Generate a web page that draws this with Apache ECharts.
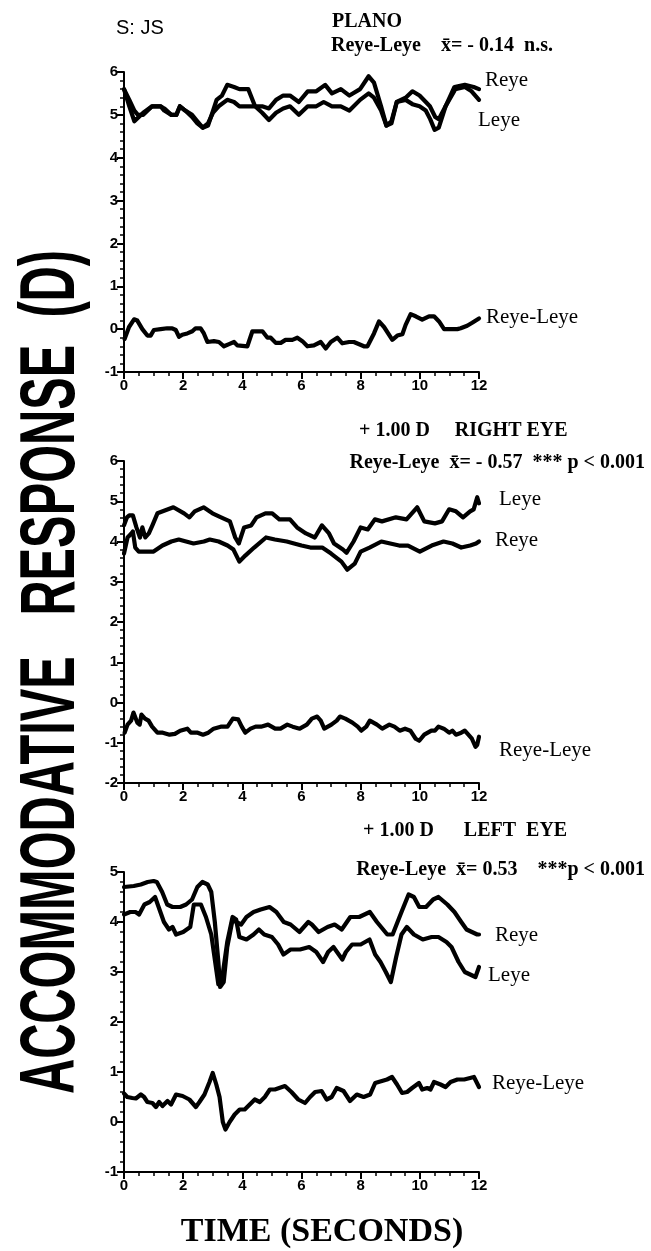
<!DOCTYPE html>
<html>
<head>
<meta charset="utf-8">
<script src="https://cdn.jsdelivr.net/npm/echarts@6/dist/echarts.min.js"></script>
<style>
  html, body { margin: 0; padding: 0; background: #fff; }
  #chart { width: 651px; height: 1251px; }
</style>
</head>
<body>
<div id="chart"></div>
<script>
// Accommodative response traces, [time (s), response (D)]

// Plano condition
const planoReye = [[0,5.6],[0.18,5.35],[0.35,5.1],[0.47,5.0],[0.65,5.0],[0.95,5.2],[1.24,5.2],[1.36,5.15],[1.6,5.0],[1.77,5.0],[1.89,5.2],[2.07,5.1],[2.3,5.0],[2.48,4.85],[2.66,4.7],[2.84,4.75],[3.01,5.1],[3.13,5.35],[3.31,5.45],[3.49,5.7],[3.72,5.65],[3.9,5.6],[4.2,5.6],[4.43,5.2],[4.67,5.2],[4.9,5.15],[5.14,5.35],[5.38,5.45],[5.61,5.45],[5.91,5.3],[6.21,5.55],[6.5,5.55],[6.8,5.7],[7.03,5.5],[7.33,5.6],[7.62,5.45],[7.98,5.6],[8.27,5.9],[8.45,5.75],[8.69,5.2],[8.87,4.75],[9.04,4.85],[9.22,5.3],[9.52,5.4],[9.75,5.55],[9.99,5.45],[10.34,5.2],[10.52,4.95],[10.64,4.9],[10.87,5.2],[11.17,5.65],[11.52,5.7],[11.82,5.65],[12,5.6]];
const planoLeye = [[0,5.6],[0.18,5.2],[0.35,4.85],[0.5,4.95],[0.65,5.05],[0.95,5.2],[1.24,5.2],[1.36,5.1],[1.6,5.0],[1.77,5.0],[1.89,5.2],[2.07,5.1],[2.3,4.95],[2.48,4.8],[2.66,4.7],[2.84,4.8],[3.01,5.05],[3.2,5.2],[3.49,5.35],[3.72,5.3],[3.9,5.2],[4.2,5.2],[4.43,5.2],[4.67,5.05],[4.9,4.88],[5.14,5.05],[5.38,5.15],[5.61,5.2],[5.91,5.0],[6.21,5.2],[6.5,5.2],[6.75,5.3],[7.03,5.2],[7.33,5.2],[7.62,5.1],[7.98,5.35],[8.27,5.5],[8.45,5.4],[8.69,5.1],[8.87,4.75],[9.04,4.8],[9.22,5.3],[9.52,5.35],[9.75,5.25],[9.99,5.2],[10.2,5.1],[10.35,4.9],[10.5,4.65],[10.64,4.7],[10.87,5.2],[11.2,5.6],[11.52,5.65],[11.75,5.55],[12,5.35]];
const planoDiff = [[0.02,-0.23],[0.17,0.05],[0.34,0.23],[0.45,0.2],[0.62,0.0],[0.79,-0.15],[0.9,-0.15],[1.01,-0.02],[1.24,0.0],[1.46,0.02],[1.63,0.02],[1.75,-0.02],[1.86,-0.18],[1.97,-0.13],[2.14,-0.1],[2.31,-0.05],[2.42,0.02],[2.59,0.02],[2.7,-0.1],[2.82,-0.3],[3.04,-0.28],[3.21,-0.3],[3.38,-0.4],[3.55,-0.35],[3.72,-0.3],[3.83,-0.38],[4.17,-0.4],[4.34,-0.05],[4.68,-0.05],[4.85,-0.2],[4.96,-0.2],[5.13,-0.32],[5.3,-0.32],[5.46,-0.25],[5.69,-0.25],[5.86,-0.2],[6.03,-0.28],[6.2,-0.4],[6.42,-0.38],[6.65,-0.3],[6.82,-0.45],[6.99,-0.3],[7.21,-0.2],[7.38,-0.33],[7.61,-0.3],[7.77,-0.3],[8.11,-0.4],[8.23,-0.4],[8.45,-0.1],[8.62,0.18],[8.79,0.05],[9.07,-0.25],[9.24,-0.15],[9.41,-0.12],[9.52,0.1],[9.69,0.35],[9.86,0.3],[10.08,0.22],[10.31,0.3],[10.48,0.3],[10.65,0.18],[10.82,0.0],[11.27,0.0],[11.38,0.02],[11.6,0.08],[11.77,0.15],[12,0.25]];

// +1.00 D lens before the right eye
const rightLensLeye = [[0,4.4],[0.1,4.6],[0.18,4.65],[0.3,4.65],[0.42,4.35],[0.54,4.1],[0.62,4.35],[0.72,4.1],[0.84,4.2],[0.96,4.4],[1.13,4.7],[1.31,4.75],[1.67,4.85],[2.03,4.7],[2.21,4.6],[2.39,4.75],[2.69,4.85],[2.99,4.7],[3.28,4.6],[3.58,4.5],[3.76,4.1],[3.88,3.95],[4.06,4.35],[4.3,4.4],[4.48,4.6],[4.78,4.7],[5.01,4.7],[5.25,4.55],[5.61,4.55],[5.85,4.35],[6.15,4.2],[6.45,4.1],[6.69,4.4],[6.93,4.2],[7.1,3.95],[7.4,3.8],[7.52,3.72],[7.76,4.0],[8.0,4.35],[8.24,4.3],[8.48,4.55],[8.72,4.5],[9.19,4.6],[9.55,4.55],[9.91,4.85],[10.15,4.5],[10.51,4.45],[10.75,4.5],[10.99,4.8],[11.22,4.75],[11.46,4.6],[11.7,4.75],[11.82,4.8],[11.94,5.1],[12,4.95]];
const rightLensReye = [[0,3.7],[0.12,4.1],[0.25,4.2],[0.3,4.25],[0.38,3.85],[0.5,3.75],[0.75,3.75],[1.0,3.75],[1.3,3.9],[1.6,4.0],[1.85,4.05],[2.1,4.0],[2.35,3.95],[2.7,4.0],[2.9,4.05],[3.2,4.0],[3.5,3.9],[3.7,3.8],[3.9,3.5],[4.1,3.65],[4.4,3.85],[4.8,4.1],[5.1,4.05],[5.5,4.0],[6.0,3.9],[6.3,3.85],[6.7,3.85],[7.0,3.7],[7.35,3.5],[7.55,3.3],[7.8,3.45],[8.0,3.75],[8.3,3.85],[8.7,4.0],[9.0,3.95],[9.3,3.9],[9.6,3.9],[10.0,3.75],[10.4,3.9],[10.8,4.0],[11.1,3.95],[11.4,3.85],[11.7,3.9],[11.9,3.95],[12,4.0]];
const rightLensDiff = [[0.02,-0.75],[0.12,-0.55],[0.24,-0.45],[0.32,-0.25],[0.45,-0.5],[0.53,-0.55],[0.59,-0.3],[0.71,-0.4],[0.83,-0.45],[0.95,-0.6],[1.13,-0.75],[1.31,-0.75],[1.54,-0.8],[1.72,-0.78],[1.9,-0.7],[2.14,-0.65],[2.26,-0.75],[2.49,-0.75],[2.67,-0.8],[2.85,-0.75],[3.03,-0.65],[3.27,-0.6],[3.5,-0.6],[3.68,-0.4],[3.86,-0.42],[3.98,-0.6],[4.1,-0.75],[4.28,-0.65],[4.45,-0.6],[4.63,-0.6],[4.87,-0.55],[5.11,-0.65],[5.29,-0.65],[5.52,-0.55],[5.7,-0.6],[5.94,-0.65],[6.18,-0.55],[6.35,-0.4],[6.53,-0.35],[6.65,-0.45],[6.77,-0.65],[7.01,-0.55],[7.19,-0.45],[7.3,-0.35],[7.48,-0.4],[7.72,-0.5],[7.9,-0.6],[8.02,-0.7],[8.19,-0.6],[8.31,-0.45],[8.55,-0.55],[8.73,-0.65],[8.97,-0.55],[9.14,-0.6],[9.32,-0.7],[9.5,-0.65],[9.68,-0.7],[9.86,-0.9],[9.98,-0.95],[10.15,-0.8],[10.39,-0.7],[10.51,-0.7],[10.63,-0.6],[10.81,-0.65],[10.99,-0.75],[11.1,-0.7],[11.22,-0.8],[11.4,-0.75],[11.52,-0.7],[11.64,-0.8],[11.76,-0.9],[11.88,-1.1],[11.94,-1.05],[12,-0.85]];

// +1.00 D lens before the left eye
const leftLensReye = [[0,4.7],[0.33,4.72],[0.57,4.75],[0.8,4.8],[1.0,4.82],[1.11,4.8],[1.29,4.6],[1.46,4.35],[1.64,4.3],[1.9,4.3],[2.1,4.35],[2.3,4.45],[2.48,4.7],[2.65,4.8],[2.83,4.75],[2.95,4.6],[3.07,4.0],[3.19,3.2],[3.25,2.7],[3.37,2.8],[3.49,3.5],[3.67,4.05],[3.79,4.0],[3.96,3.95],[4.14,4.1],[4.38,4.2],[4.62,4.25],[4.92,4.3],[5.15,4.2],[5.4,4.0],[5.63,3.95],[5.93,3.8],[6.23,4.0],[6.35,3.95],[6.58,3.8],[6.88,3.9],[7.12,3.95],[7.36,3.85],[7.65,4.1],[7.95,4.1],[8.31,4.2],[8.55,4.0],[8.9,3.75],[9.08,3.75],[9.38,4.2],[9.62,4.55],[9.8,4.5],[9.98,4.3],[10.21,4.3],[10.45,4.45],[10.63,4.5],[10.93,4.35],[11.17,4.2],[11.4,4.0],[11.58,3.85],[11.76,3.8],[11.94,3.75],[12,3.75]];
const leftLensLeye = [[0,4.15],[0.21,4.2],[0.39,4.2],[0.51,4.15],[0.69,4.35],[0.87,4.4],[1.05,4.5],[1.17,4.3],[1.35,4.0],[1.52,3.85],[1.64,3.9],[1.76,3.75],[2.0,3.8],[2.24,3.9],[2.36,4.35],[2.6,4.35],[2.77,4.1],[2.95,3.75],[3.13,3.0],[3.19,2.75],[3.31,2.85],[3.49,3.6],[3.67,4.1],[3.79,4.05],[3.9,3.7],[4.14,3.65],[4.38,3.75],[4.56,3.85],[4.74,3.75],[5.0,3.7],[5.21,3.55],[5.39,3.35],[5.63,3.45],[5.95,3.45],[6.26,3.5],[6.5,3.4],[6.73,3.2],[6.9,3.4],[7.08,3.5],[7.26,3.35],[7.38,3.25],[7.5,3.4],[7.71,3.55],[8.0,3.55],[8.3,3.65],[8.49,3.35],[8.67,3.2],[8.85,3.0],[9.02,2.8],[9.2,3.3],[9.38,3.75],[9.56,3.9],[9.8,3.75],[10.1,3.65],[10.4,3.7],[10.63,3.7],[10.9,3.6],[11.07,3.5],[11.31,3.2],[11.52,3.0],[11.7,2.95],[11.88,2.9],[12,3.1]];
const leftLensDiff = [[0,0.57],[0.11,0.5],[0.28,0.48],[0.4,0.47],[0.57,0.55],[0.68,0.5],[0.79,0.4],[0.96,0.38],[1.08,0.3],[1.19,0.4],[1.3,0.32],[1.47,0.42],[1.59,0.35],[1.76,0.55],[1.98,0.52],[2.21,0.45],[2.43,0.3],[2.55,0.4],[2.72,0.55],[2.89,0.8],[3.0,0.98],[3.12,0.75],[3.23,0.5],[3.34,0.0],[3.43,-0.15],[3.57,0.0],[3.62,0.0],[3.74,0.15],[3.91,0.25],[4.08,0.25],[4.25,0.35],[4.42,0.45],[4.59,0.4],[4.76,0.5],[4.93,0.65],[5.1,0.65],[5.44,0.72],[5.66,0.6],[5.89,0.45],[6.12,0.38],[6.29,0.5],[6.46,0.6],[6.68,0.62],[6.85,0.45],[7.02,0.5],[7.19,0.68],[7.42,0.62],[7.64,0.42],[7.87,0.55],[8.1,0.5],[8.32,0.55],[8.49,0.78],[8.89,0.85],[9.06,0.9],[9.23,0.75],[9.4,0.58],[9.57,0.6],[9.74,0.68],[9.97,0.78],[10.08,0.65],[10.25,0.68],[10.36,0.65],[10.48,0.8],[10.7,0.75],[10.87,0.7],[11.04,0.8],[11.27,0.85],[11.5,0.85],[11.83,0.9],[12,0.7]];

// Axis ranges per panel: [min, max]
const yRanges = [[-1, 6], [-2, 6], [-1, 5]];
const timeRange = [0, 12];

// Panel placement in pixels: [top, height]
const panelBoxes = [[72, 300], [461, 322], [872, 300]];
const plotLeft = 124, plotWidth = 355;

const tickFont = { fontFamily: 'Liberation Sans', fontWeight: 'bold', fontSize: 15, color: '#000' };

const grids = panelBoxes.map(([top, height]) => ({ left: plotLeft, top, width: plotWidth, height }));

const xAxes = grids.map((g, i) => ({
  type: 'value', gridIndex: i, min: timeRange[0], max: timeRange[1], interval: 2,
  axisLine: { show: true, onZero: false, lineStyle: { color: '#000', width: 2 } },
  axisTick: { show: true, length: 7, lineStyle: { color: '#000', width: 2 } },
  minorTick: { show: true, splitNumber: 4, length: 4, lineStyle: { color: '#000', width: 1.5 } },
  splitLine: { show: false },
  axisLabel: Object.assign({ margin: 6 }, tickFont)
}));

const yAxes = yRanges.map(([min, max], i) => ({
  type: 'value', gridIndex: i, min, max, interval: 1,
  axisLine: { show: true, onZero: false, lineStyle: { color: '#000', width: 2 } },
  axisTick: { show: true, length: 7, lineStyle: { color: '#000', width: 2 } },
  minorTick: { show: true, splitNumber: 5, length: 4, lineStyle: { color: '#000', width: 1.5 } },
  splitLine: { show: false },
  axisLabel: Object.assign({ margin: 6 }, tickFont)
}));

function trace(data, panel) {
  return {
    type: 'line', xAxisIndex: panel, yAxisIndex: panel, data,
    showSymbol: false, symbol: 'none', smooth: false, silent: true,
    lineStyle: { color: '#000', width: 4.2, join: 'round', cap: 'round' }
  };
}

const series = [
  trace(planoReye, 0), trace(planoLeye, 0), trace(planoDiff, 0),
  trace(rightLensLeye, 1), trace(rightLensReye, 1), trace(rightLensDiff, 1),
  trace(leftLensReye, 2), trace(leftLensLeye, 2), trace(leftLensDiff, 2)
];

function txt(text, x, cy, font, align) {
  return {
    type: 'text', x, y: cy, silent: true,
    style: { text, fill: '#000', textAlign: align || 'left', textVerticalAlign: 'middle', font }
  };
}
const labelFont = '21px "Liberation Serif"';
const headFont = 'bold 20px "Liberation Serif"';

const graphics = [
  txt('S: JS', 116, 28, '20px "Liberation Sans"'),
  txt('PLANO', 332, 22, headFont),
  txt('Reye-Leye    x\u0304= - 0.14  n.s.', 331, 46, headFont),
  txt('+ 1.00 D     RIGHT EYE', 359, 431, headFont),
  txt('Reye-Leye  x\u0304= - 0.57  *** p < 0.001', 645, 463, headFont, 'right'),
  txt('+ 1.00 D      LEFT  EYE', 363, 831, headFont),
  txt('Reye-Leye  x\u0304= 0.53    ***p < 0.001', 645, 870, headFont, 'right'),

  txt('Reye', 485, 80, labelFont),
  txt('Leye', 478, 120, labelFont),
  txt('Reye-Leye', 486, 317, labelFont),
  txt('Leye', 499, 499, labelFont),
  txt('Reye', 495, 540, labelFont),
  txt('Reye-Leye', 499, 750, labelFont),
  txt('Reye', 495, 935, labelFont),
  txt('Leye', 488, 975, labelFont),
  txt('Reye-Leye', 492, 1083, labelFont),

  txt('TIME (SECONDS)', 322, 1232, 'bold 34px "Liberation Serif"', 'center'),
  {
    type: 'text', x: 52, y: 672, rotation: Math.PI / 2, scaleX: 0.625, silent: true,
    style: { text: 'ACCOMMODATIVE   RESPONSE  (D)', fill: '#000', textAlign: 'center', textVerticalAlign: 'middle',
             font: 'bold 78px "Liberation Sans"' }
  }
];

const chart = echarts.init(document.getElementById('chart'), null, { renderer: 'canvas' });
chart.setOption({
  animation: false,
  backgroundColor: '#fff',
  grid: grids,
  xAxis: xAxes,
  yAxis: yAxes,
  series,
  graphic: graphics
});
</script>
</body>
</html>
